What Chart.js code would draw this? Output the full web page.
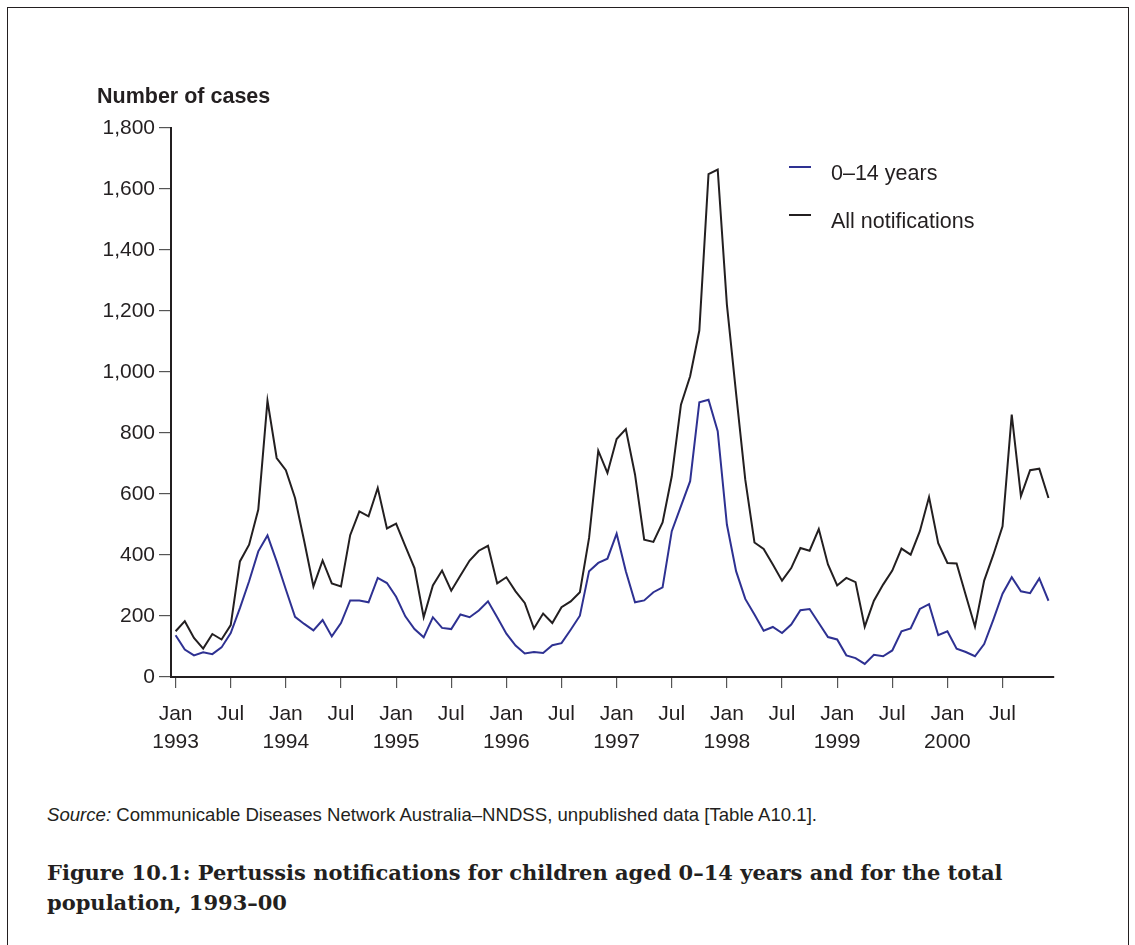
<!DOCTYPE html>
<html>
<head>
<meta charset="utf-8">
<script src="https://cdn.jsdelivr.net/npm/chart.js@4.4.1/dist/chart.umd.min.js"></script>
<style>
  body { margin: 0; background: #fff; font-family: "Liberation Sans", Arial, sans-serif; color: #231f20; }
  #page { position: relative; width: 1135px; height: 945px; overflow: hidden; }
  #frame { position: absolute; left: 7px; top: 7px; width: 1120px; height: 960px;
           border-left: 1.5px solid #231f20; border-top: 1.5px solid #231f20; border-right: 1.5px solid #231f20; }
  #wrap { position: absolute; left: 0; top: 0; width: 1135px; height: 780px; }
  .abs { position: absolute; white-space: nowrap; }
  #ytitle { left: 97px; top: 84px; font-weight: bold; font-size: 21.5px; }
  #legend .item { position: absolute; left: 789px; height: 24px; }
  #legend .swatch { position: absolute; left: 0; top: 5px; width: 22px; height: 2px; }
  #legend .txt { position: absolute; left: 42px; top: 0; font-size: 21.5px; line-height: 24px; white-space: nowrap; }
  #source { left: 47px; top: 804px; font-size: 18.6px; }
  #caption { left: 47px; top: 858px; font-family: "DejaVu Serif", "Liberation Serif", serif; font-weight: bold;
             font-size: 21px; line-height: 30px; white-space: normal; width: 1050px; }
</style>
</head>
<body>
<div id="page">
  <div id="frame"></div>
  <div id="wrap"><canvas id="chart" width="1135" height="780"></canvas></div>
  <div class="abs" id="ytitle">Number of cases</div>
  <div id="legend"></div>
  <div class="abs" id="source"><i>Source:</i> Communicable Diseases Network Australia–NNDSS, unpublished data [Table A10.1].</div>
  <div class="abs" id="caption">Figure 10.1: Pertussis notifications for children aged 0–14 years and for the total population, 1993–00</div>
</div>
<script>
// monthly values, Jan 1993 .. Dec 2000
var children = [
    137, 90, 71, 81, 75, 97, 144, 226, 314, 412, 464, 379,
    287, 197, 174, 153, 187, 133, 177, 251, 251, 245, 325, 308,
    263, 199, 157, 130, 196, 161, 157, 205, 196, 218, 248, 196,
    142, 103, 77, 82, 79, 104, 111, 155, 201, 347, 374, 388,
    470, 347, 245, 251, 278, 294, 478, 560, 642, 901, 909, 806,
    500, 347, 256, 205, 152, 164, 144, 172, 219, 223, 177, 131,
    123, 71, 62, 43, 73, 68, 87, 150, 159, 223, 239, 137,
    150, 93, 82, 68, 108, 188, 273, 327, 281, 275, 323, 250
];
var allNotifications = [
    150, 183, 128, 93, 141, 123, 170, 379, 434, 549, 906, 718,
    678, 587, 445, 297, 382, 307, 297, 465, 543, 527, 620, 487,
    503, 429, 357, 196, 300, 349, 283, 333, 382, 414, 430, 307,
    327, 281, 243, 159, 208, 177, 229, 248, 278, 456, 742, 669,
    780, 813, 664, 450, 443, 507, 658, 893, 986, 1136, 1649, 1664,
    1221, 930, 647, 441, 420, 369, 316, 357, 423, 414, 485, 369,
    300, 325, 311, 165, 250, 303, 349, 421, 401, 478, 590, 439,
    374, 372, 268, 165, 316, 401, 494, 860, 593, 678, 683, 587
];
var years = ['1993', '1994', '1995', '1996', '1997', '1998', '1999', '2000'];
var tickMonths = [0, 6, 12, 18, 24, 30, 36, 42, 48, 54, 60, 66, 72, 78, 84, 90];

function toPoints(arr) {
    return arr.map(function (v, i) { return { x: i, y: v }; });
}

var axisColor = '#231f20';
var font = { family: '"Liberation Sans", Arial, sans-serif', size: 21 };

var config = {
    type: 'line',
    data: {
        datasets: [{
            label: '0–14 years',
            data: toPoints(children),
            borderColor: '#2e3192',
            borderWidth: 2,
            pointRadius: 0,
            tension: 0
        }, {
            label: 'All notifications',
            data: toPoints(allNotifications),
            borderColor: '#231f20',
            borderWidth: 2,
            pointRadius: 0,
            tension: 0
        }]
    },
    options: {
        responsive: false,
        animation: false,
        layout: { padding: { left: 0, top: 128, right: 81, bottom: 0 } },
        scales: {
            x: {
                type: 'linear',
                min: -0.5,
                max: 95.6,
                afterBuildTicks: function (scale) {
                    scale.ticks = tickMonths.map(function (m) { return { value: m }; });
                },
                afterFit: function (scale) { scale.height = 103; },
                ticks: {
                    color: axisColor,
                    font: { family: font.family, size: 21, lineHeight: 1.35 },
                    padding: 12,
                    maxRotation: 0,
                    autoSkip: false,
                    callback: function (v) {
                        if (v % 12 === 0) return ['Jan', years[v / 12]];
                        return 'Jul';
                    }
                },
                grid: { drawOnChartArea: false, drawTicks: true, tickLength: 11, color: '#555', lineWidth: 1.2 },
                border: { color: axisColor, width: 2 }
            },
            y: {
                min: 0,
                max: 1800,
                afterFit: function (scale) { scale.width = 171; },
                ticks: {
                    stepSize: 200,
                    color: axisColor,
                    font: font,
                    padding: 4,
                    callback: function (v) { return v.toLocaleString('en-US'); }
                },
                grid: { drawOnChartArea: false, drawTicks: true, tickLength: 12, color: '#555', lineWidth: 1.2 },
                border: { color: axisColor, width: 2 }
            }
        },
        plugins: {
            legend: { display: false },
            tooltip: { enabled: false }
        }
    }
};

var ctx = document.getElementById('chart').getContext('2d');
var chart = new Chart(ctx, config);

// legend inside the plot, top right
var legend = document.getElementById('legend');
chart.data.datasets.forEach(function (ds, i) {
    var item = document.createElement('div');
    item.className = 'item';
    item.style.top = (161 + i * 48) + 'px';
    item.innerHTML = '<div class="swatch" style="background:' + ds.borderColor + '"></div>' +
        '<div class="txt">' + ds.label + '</div>';
    legend.appendChild(item);
});
</script>
</body>
</html>
